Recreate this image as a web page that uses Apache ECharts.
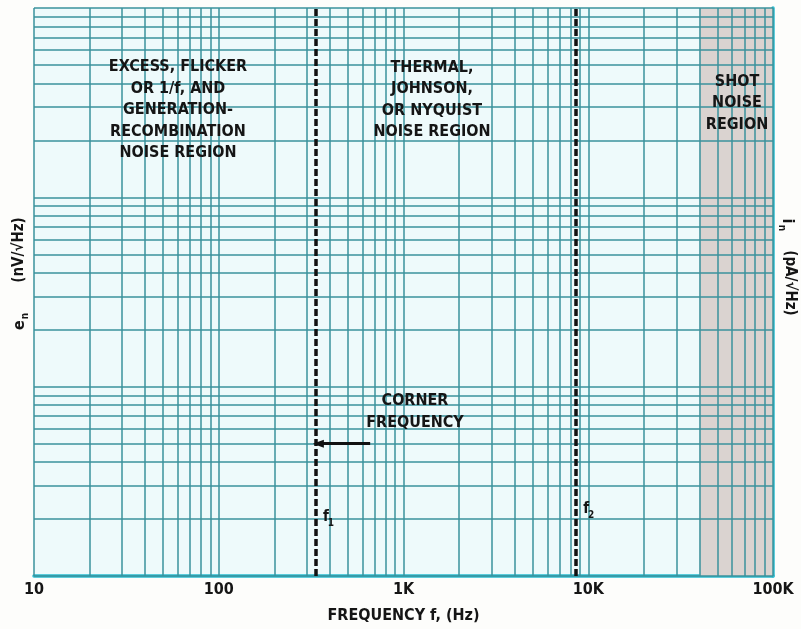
<!DOCTYPE html>
<html><head><meta charset="utf-8">
<script src="https://cdn.jsdelivr.net/npm/echarts@6/dist/echarts.min.js"></script>
<style>html,body{margin:0;padding:0;background:#fdfdfb}#c{width:801px;height:629px}</style>
</head><body><div id="c"></div><script>
// ---- data ----
const xTickValues = [10, 100, 1000, 10000, 100000];
const xTickLabels = ['10', '100', '1K', '10K', '100K'];
const xDecades = [10, 100, 1000, 10000];
const yDecades = [1, 10, 100];
const gridMultipliers = [1, 2, 3, 4, 5, 6, 7, 8, 9];
const cornerFreqs = [336, 8600];          // f1, f2 (dashed lines)
const cornerSubs = ['1', '2'];
const shotRegion = [40000, 100000];
const arrowFrom = [660, 5.0];
const arrowTo = [346, 5.0];
const regionTexts = [
  'EXCESS, FLICKER\nOR 1/f, AND\nGENERATION-\nRECOMBINATION\nNOISE REGION',
  'THERMAL,\nJOHNSON,\nOR NYQUIST\nNOISE REGION',
  'SHOT\nNOISE\nREGION',
  'CORNER\nFREQUENCY'
];

// ---- build ----
const FONT = "'Liberation Sans Narrow','DejaVu Sans Condensed','Roboto Condensed','Liberation Sans',sans-serif";
const TXT = '#151515';
const GRID_C = '#3a929d';
const xGrid = [];
xDecades.forEach(d => gridMultipliers.forEach(m => xGrid.push(d * m)));
xGrid.push(100000);
const yGrid = [];
yDecades.forEach(d => gridMultipliers.forEach(m => yGrid.push(d * m)));
yGrid.push(1000);

const chart = echarts.init(document.getElementById('c'), null, {renderer: 'canvas'});
const labelMap = {};
xTickValues.forEach((v, i) => labelMap[v] = xTickLabels[i]);

chart.setOption({
  animation: false,
  backgroundColor: '#fdfdfb',
  grid: {left: 34, right: 28, top: 8, bottom: 53, show: true, backgroundColor: '#eefafb', borderWidth: 0},
  xAxis: {
    type: 'log', logBase: 10, min: 10, max: 100000,
    axisLine: {show: true, lineStyle: {color: '#2bbcd0', width: 3.5}},
    axisTick: {show: false},
    splitLine: {show: false},
    axisLabel: {
      margin: 6, color: TXT, fontFamily: FONT, fontWeight: 'bold', fontSize: 16,
      formatter: v => labelMap[Math.round(v)] || ''
    },
    name: 'FREQUENCY f, (Hz)', nameLocation: 'middle', nameGap: 32,
    nameTextStyle: {color: TXT, fontFamily: FONT, fontWeight: 'bold', fontSize: 16}
  },
  yAxis: [
    {type: 'log', logBase: 10, min: 1, max: 1000, position: 'left',
     axisLine: {show: false}, axisTick: {show: false}, axisLabel: {show: false}, splitLine: {show: false}},
    {type: 'log', logBase: 10, min: 1, max: 1000, position: 'right',
     axisLine: {show: true, lineStyle: {color: '#2bbcd0', width: 3.5}}, axisTick: {show: false},
     axisLabel: {show: false}, splitLine: {show: false}}
  ],
  series: [
    {
      type: 'line', data: [], z: 1, silent: true,
      markArea: {
        silent: true,
        itemStyle: {color: '#dad3d0', decal: {symbol: 'circle', symbolSize: 0.6, color: 'rgba(150,135,130,0.35)', dashArrayX: [1, 0], dashArrayY: [2, 1]}},
        data: [[{xAxis: shotRegion[0]}, {xAxis: shotRegion[1]}]]
      }
    },
    {
      type: 'line', data: [], z: 3, silent: true,
      markLine: {
        silent: true, symbol: ['none', 'none'], label: {show: false},
        lineStyle: {color: GRID_C, width: 1.5, type: 'solid'},
        data: xGrid.map(v => ({xAxis: v})).concat(yGrid.map(v => ({yAxis: v})))
      }
    },
    {
      type: 'line', data: [], z: 5, silent: true,
      markLine: {
        silent: true, symbol: ['none', 'none'], label: {show: false},
        lineStyle: {color: '#111', width: 3.5, type: [7, 3]},
        data: cornerFreqs.map(v => ({xAxis: v}))
      }
    },
    {
      type: 'line', data: [], z: 6, silent: true,
      markLine: {
        silent: true, symbol: ['none', 'triangle'], symbolSize: [8, 11], label: {show: false},
        lineStyle: {color: '#111', width: 3, type: 'solid'},
        data: [[{coord: arrowFrom}, {coord: arrowTo}]]
      }
    }
  ]
});

// text overlays
const font = (s) => 'bold ' + s + 'px ' + FONT;
const gfx = [];
function txt(t, x, y, size, rot, lh) {
  gfx.push({type: 'text', x: x, y: y, rotation: rot || 0, z: 100, silent: true,
    style: {text: t, align: 'center', verticalAlign: 'middle', font: font(size), fill: TXT, lineHeight: lh || size * 1.3}});
}
txt(regionTexts[0], 178, 110, 16, 0, 21.5);
txt(regionTexts[1], 432, 100, 16, 0, 21.5);
txt(regionTexts[2], 737, 103, 16, 0, 21.5);
txt(regionTexts[3], 415, 412, 16, 0, 21.5);
// f1, f2 labels at dashed lines
cornerFreqs.forEach((v, i) => {
  const px = chart.convertToPixel({xAxisIndex: 0}, v);
  const py = i === 0 ? 517 : 509;
  txt('f', px + 10, py, 15);
  txt(cornerSubs[i], px + 15, py + 6, 10);
});
// left axis name (rotated CCW)
txt('(nV/√Hz)', 19, 250, 15, Math.PI / 2);
txt('e', 20, 325, 16, Math.PI / 2);
txt('n', 25, 316, 10, Math.PI / 2);
// right axis name (rotated CW)
txt('(pA/√Hz)', 790, 283, 15, -Math.PI / 2);
txt('i', 787, 221, 16, -Math.PI / 2);
txt('n', 782, 228, 10, -Math.PI / 2);
chart.setOption({graphic: gfx});
</script></body></html>
